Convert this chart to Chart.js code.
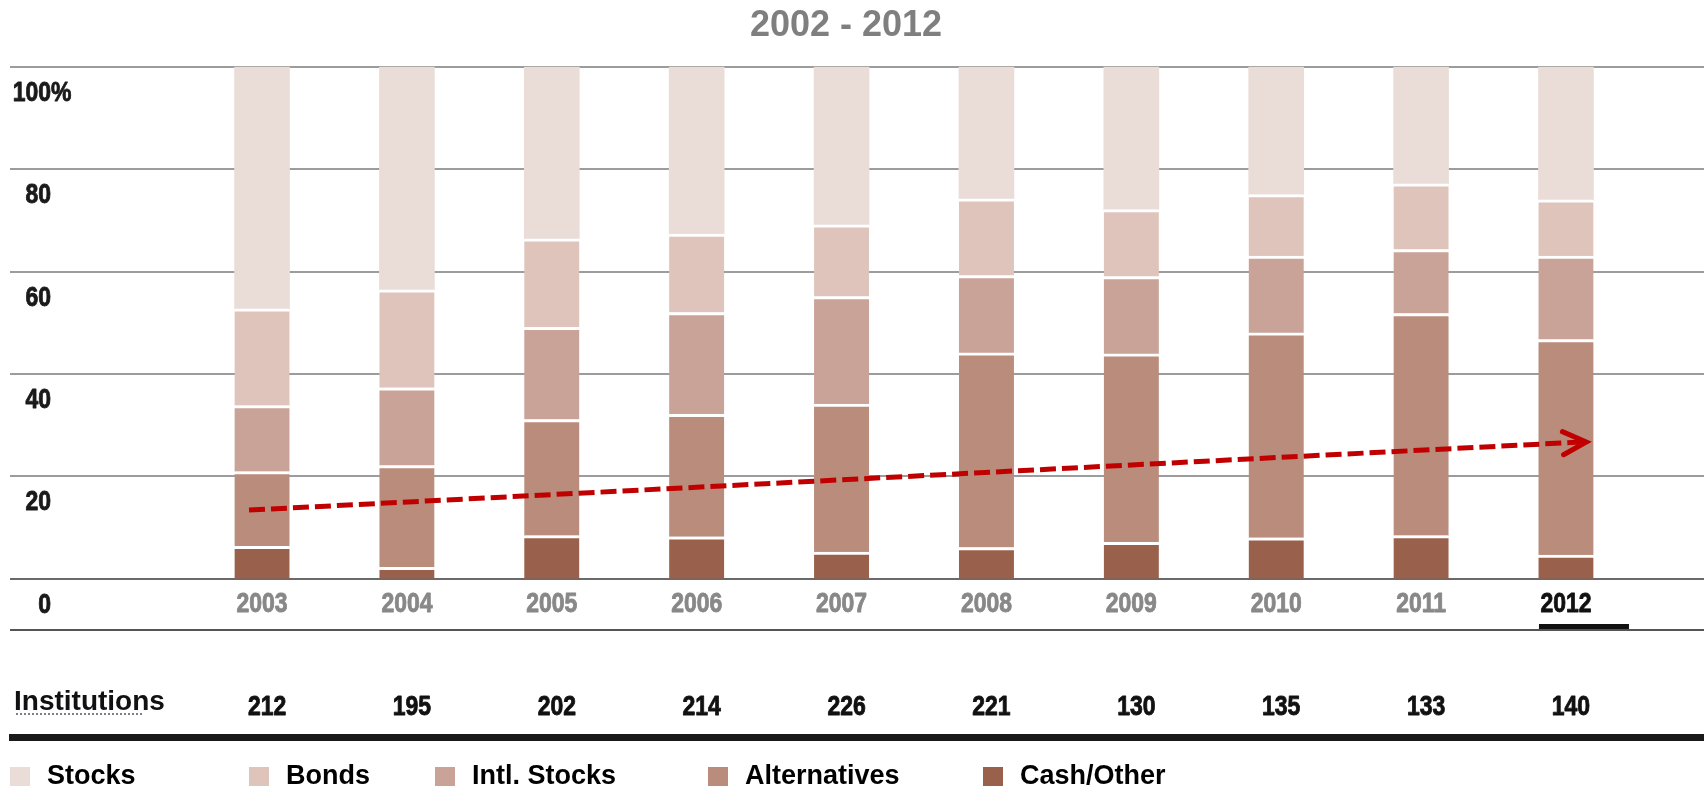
<!DOCTYPE html>
<html>
<head>
<meta charset="utf-8">
<title>Asset allocation 2002 - 2012</title>
<script src="https://cdn.jsdelivr.net/npm/chart.js@4.4.1/dist/chart.umd.min.js"></script>
<style>
  html, body { margin: 0; padding: 0; background: #fff; }
  #wrap { width: 1704px; height: 788px; position: relative; }
</style>
</head>
<body>
<div id="wrap"><canvas id="allocChart"></canvas></div>
<script>
// share of portfolio, percent, bottom segment first
const years        = ['2003', '2004', '2005', '2006', '2007', '2008', '2009', '2010', '2011', '2012'];
const cashOther    = [6.3, 2.2, 8.4, 8.2, 5.2, 6.1, 7.1, 8.0, 8.4, 4.6];
const alternatives = [14.6, 19.9, 22.7, 23.9, 28.9, 38.0, 36.8, 40.0, 43.4, 42.1];
const intlStocks   = [12.9, 15.2, 18.0, 19.9, 21.0, 15.1, 15.1, 15.0, 12.5, 16.3];
const bonds        = [18.9, 19.1, 17.3, 15.3, 14.0, 15.0, 13.1, 12.0, 12.8, 11.0];
const stocks       = [47.3, 43.6, 33.6, 32.7, 30.9, 25.8, 27.9, 25.0, 22.9, 26.0];
const institutions = [212, 195, 202, 214, 226, 221, 130, 135, 133, 140];
const yTicks       = [0, 20, 40, 60, 80, 100];
// trend arrow: [category position, percent]
const trendFrom = [-0.09, 13.4];
const trendTo   = [9.14, 26.7];

const colors = {
  stocks: '#eaddd8',
  bonds: '#dfc4bb',
  intl: '#c9a398',
  alt: '#b98c7b',
  cash: '#99604b'
};

const ARIAL = '"Liberation Sans", Arial, sans-serif';

const legendItems = [
  { label: 'Stocks', color: colors.stocks, x: 10 },
  { label: 'Bonds', color: colors.bonds, x: 249 },
  { label: 'Intl. Stocks', color: colors.intl, x: 435 },
  { label: 'Alternatives', color: colors.alt, x: 708 },
  { label: 'Cash/Other', color: colors.cash, x: 983 }
];

// condensed heavy face: squeeze the regular bold horizontally, thicken a bit
function narrowText(ctx, text, x, y, align) {
  ctx.save();
  ctx.translate(x, y);
  ctx.scale(0.82, 1);
  ctx.font = `bold 28px ${ARIAL}`;
  ctx.textAlign = align;
  ctx.textBaseline = 'alphabetic';
  ctx.strokeStyle = ctx.fillStyle;
  ctx.lineWidth = 0.9;
  ctx.lineJoin = 'round';
  ctx.fillText(text, 0, 0);
  ctx.strokeText(text, 0, 0);
  ctx.restore();
}

// horizontal rules run the full width, behind the bars
const gridPlugin = {
  id: 'fullGrid',
  beforeDatasetsDraw(chart) {
    const { ctx, scales: { y } } = chart;
    ctx.save();
    yTicks.forEach(v => {
      const py = Math.round(y.getPixelForValue(v));
      ctx.strokeStyle = v === 0 ? '#6a6a6a' : '#9c9c9c';
      ctx.lineWidth = 2;
      ctx.beginPath();
      ctx.moveTo(10, py);
      ctx.lineTo(chart.width, py);
      ctx.stroke();
    });
    ctx.restore();
  }
};

const decorPlugin = {
  id: 'decor',
  afterDatasetsDraw(chart) {
    const { ctx, scales: { x, y } } = chart;
    ctx.save();

    // title
    ctx.font = `bold 36px ${ARIAL}`;
    ctx.fillStyle = '#7f7f7f';
    ctx.textAlign = 'center';
    ctx.textBaseline = 'alphabetic';
    ctx.fillText('2002 - 2012', 846, 36);

    // y labels sit under their rule
    ctx.fillStyle = '#1a1a1a';
    yTicks.forEach(v => {
      const py = y.getPixelForValue(v) + 34;
      narrowText(ctx, String(v), 51, py, 'right');
      if (v === 100) narrowText(ctx, '%', 51, py, 'left');
    });

    // year labels
    years.forEach((yr, i) => {
      const last = i === years.length - 1;
      ctx.fillStyle = last ? '#111111' : '#888888';
      narrowText(ctx, yr, x.getPixelForValue(i), 612, 'center');
    });
    const lastX = x.getPixelForValue(years.length - 1);
    ctx.fillStyle = '#111';
    ctx.fillRect(lastX - 27, 624, 90, 5);

    // rule under the years
    ctx.strokeStyle = '#555';
    ctx.lineWidth = 2;
    ctx.beginPath();
    ctx.moveTo(10, 630);
    ctx.lineTo(chart.width, 630);
    ctx.stroke();

    // institutions row
    ctx.font = `bold 28px ${ARIAL}`;
    ctx.fillStyle = '#111';
    ctx.textAlign = 'left';
    ctx.fillText('Institutions', 14, 710);
    ctx.strokeStyle = '#7a7f8a';
    ctx.lineWidth = 2;
    ctx.setLineDash([2, 2]);
    ctx.beginPath();
    ctx.moveTo(16, 714);
    ctx.lineTo(143, 714);
    ctx.stroke();
    ctx.setLineDash([]);

    ctx.fillStyle = '#111111';
    institutions.forEach((n, i) => {
      narrowText(ctx, String(n), x.getPixelForValue(i) + 5, 715, 'center');
    });

    // heavy rule
    ctx.fillStyle = '#1a1a1a';
    ctx.fillRect(9, 734, chart.width - 9, 7);

    // legend
    ctx.font = `bold 27px ${ARIAL}`;
    ctx.textAlign = 'left';
    legendItems.forEach(item => {
      ctx.fillStyle = item.color;
      ctx.fillRect(item.x, 767, 20, 19);
      ctx.fillStyle = '#000';
      ctx.fillText(item.label, item.x + 37, 784);
    });

    // trend arrow
    const x0 = x.getPixelForValue(trendFrom[0]);
    const y0 = y.getPixelForValue(trendFrom[1]);
    const x1 = x.getPixelForValue(trendTo[0]);
    const y1 = y.getPixelForValue(trendTo[1]);
    ctx.strokeStyle = '#c00000';
    ctx.lineWidth = 5;
    ctx.setLineDash([16, 6]);
    ctx.beginPath();
    ctx.moveTo(x0, y0);
    ctx.lineTo(x1 - 5, y1);
    ctx.stroke();
    ctx.setLineDash([]);
    const ang = Math.atan2(y1 - y0, x1 - x0);
    const arm = 26;
    ctx.lineCap = 'round';
    ctx.lineJoin = 'miter';
    ctx.beginPath();
    ctx.moveTo(x1 - arm * Math.cos(ang - 0.46), y1 - arm * Math.sin(ang - 0.46));
    ctx.lineTo(x1, y1);
    ctx.lineTo(x1 - arm * Math.cos(ang + 0.46), y1 - arm * Math.sin(ang + 0.46));
    ctx.stroke();

    ctx.restore();
  }
};

function segment(label, data, color, sep) {
  return {
    label,
    data,
    backgroundColor: color,
    borderColor: '#ffffff',
    borderWidth: { top: sep, right: 0, bottom: 0, left: 0 },
    borderSkipped: 'start',
    barThickness: 55
  };
}

new Chart(document.getElementById('allocChart'), {
  type: 'bar',
  data: {
    labels: years,
    datasets: [
      segment('Cash/Other', cashOther, colors.cash, 3),
      segment('Alternatives', alternatives, colors.alt, 3),
      segment('Intl. Stocks', intlStocks, colors.intl, 3),
      segment('Bonds', bonds, colors.bonds, 3),
      segment('Stocks', stocks, colors.stocks, 0)
    ]
  },
  options: {
    responsive: true,
    maintainAspectRatio: false,
    animation: false,
    layout: { padding: { left: 189.6, right: 65.6, top: 66.7, bottom: 209.3 } },
    scales: {
      x: { stacked: true, display: false },
      y: { stacked: true, display: false, min: 0, max: 100 }
    },
    plugins: {
      legend: { display: false },
      tooltip: { enabled: false }
    }
  },
  plugins: [gridPlugin, decorPlugin]
});
</script>
</body>
</html>
